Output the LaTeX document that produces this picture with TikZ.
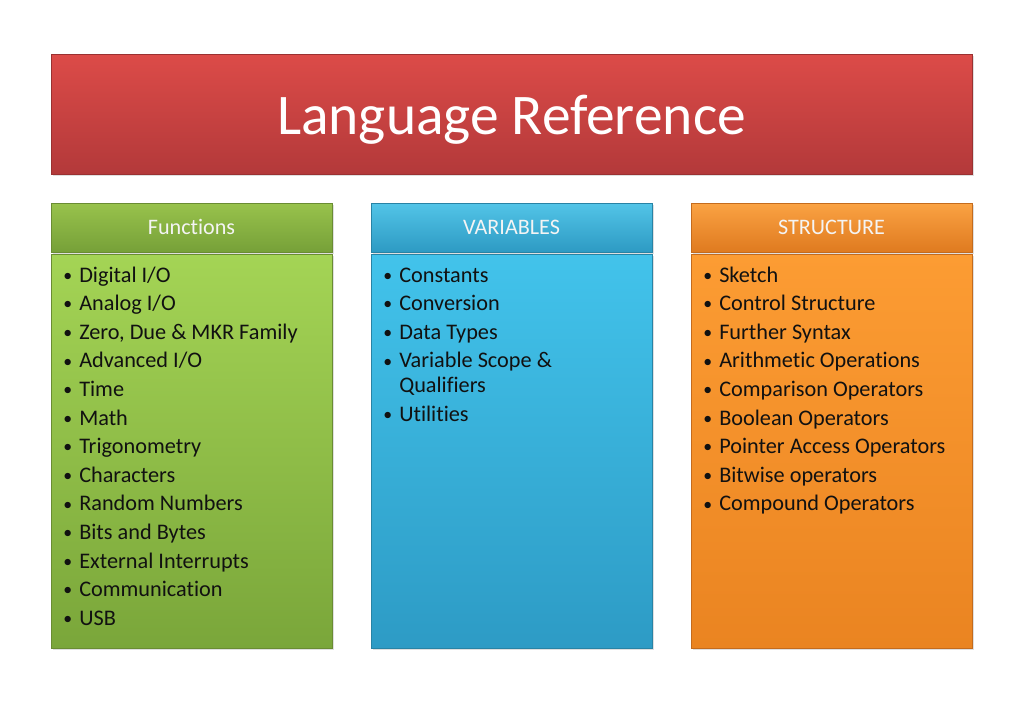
\documentclass[tikz,border=0pt]{standalone}
\usepackage{fontspec}
\setmainfont{Carlito}[RawFeature={-liga;-clig;-dlig}]
\usetikzlibrary{shadows}
\definecolor{tiTop}{HTML}{DC4B48}
\definecolor{tiBot}{HTML}{B3393A}
\definecolor{tiLine}{HTML}{9A3131}
\definecolor{grHTop}{HTML}{98C24C}
\definecolor{grHBot}{HTML}{76A038}
\definecolor{grBTop}{HTML}{A4D455}
\definecolor{grBBot}{HTML}{7AA63A}
\definecolor{grLine}{HTML}{6A8C33}
\definecolor{blHTop}{HTML}{52C4E7}
\definecolor{blHBot}{HTML}{2D9AC3}
\definecolor{blBTop}{HTML}{42C3EB}
\definecolor{blBBot}{HTML}{2D9BC5}
\definecolor{blLine}{HTML}{2883A5}
\definecolor{orHTop}{HTML}{FAA243}
\definecolor{orHBot}{HTML}{DF7A1F}
\definecolor{orBTop}{HTML}{FC9C33}
\definecolor{orBBot}{HTML}{EA8421}
\definecolor{orLine}{HTML}{C46B1D}
\definecolor{bodytext}{HTML}{111111}
\definecolor{headtext}{HTML}{F4F4F4}
\tikzset{
  boxbase/.style={rectangle, inner sep=0pt, anchor=north west,
    drop shadow={shadow xshift=1.5pt, shadow yshift=-1.5pt, opacity=0.25}},
  titlebox/.style={boxbase, top color=tiTop, bottom color=tiBot, draw=tiLine, line width=0.6pt,
    minimum width=921*0.75pt, minimum height=120*0.75pt},
  headbox/.style={boxbase, minimum width=281*0.75pt, minimum height=49*0.75pt, line width=0.6pt},
  bodybox/.style={boxbase, minimum width=281*0.75pt, minimum height=394*0.75pt, line width=0.6pt},
  headtxt/.style={anchor=base, text=headtext, inner sep=0pt, font=\fontsize{16.6}{19}\selectfont},
  item/.style={anchor=base west, text=bodytext, inner sep=0pt, font=\fontsize{16.7}{19}\selectfont},
}
\newcommand{\bul}{\makebox[12pt][l]{\raisebox{0.6pt}{\scalebox{0.8}{•}}}}
\begin{document}
\begin{tikzpicture}[x=0.75pt,y=-0.75pt]
\useasboundingbox[fill=white] (0,0) rectangle (1023,708);
% title
\node[titlebox] (title) at (51,54) {};
\node[anchor=base, text=white, inner sep=0pt, font=\fontsize{43.1}{50}\selectfont] (titletext) at (511.5,134) {Language Reference};
% headers
\node[headbox, top color=grHTop, bottom color=grHBot, draw=grLine] (hf) at (51,203) {};
\node[headbox, top color=blHTop, bottom color=blHBot, draw=blLine] (hv) at (371,203) {};
\node[headbox, top color=orHTop, bottom color=orHBot, draw=orLine] (hs) at (691,203) {};
\node[headtxt] (hft) at (191.5,234) {Functions};
\node[headtxt] (hvt) at (511.5,234) {VARIABLES};
\node[headtxt] (hst) at (831.5,234) {STRUCTURE};
% bodies
\node[bodybox, top color=grBTop, bottom color=grBBot, draw=grLine] (bf) at (51,254) {};
\node[bodybox, top color=blBTop, bottom color=blBBot, draw=blLine] (bv) at (371,254) {};
\node[bodybox, top color=orBTop, bottom color=orBBot, draw=orLine] (bs) at (691,254) {};
% functions list
\foreach \t [count=\i from 0] in {Digital I/O, Analog I/O, {Zero, Due \& MKR Family}, Advanced I/O, Time, Math, Trigonometry, Characters, Random Numbers, Bits and Bytes, External Interrupts, Communication, USB}
  \node[item] (f\i) at (63,282+28.6*\i) {\bul\t};
% variables list
\node[item] (v0) at (383,282) {\bul Constants};
\node[item] (v1) at (383,310.6) {\bul Conversion};
\node[item] (v2) at (383,339.2) {\bul Data Types};
\node[item] (v3) at (383,367.8) {\bul Variable Scope \&};
\node[item] (v3b) at (399,392.5) {Qualifiers};
\node[item] (v4) at (383,421) {\bul Utilities};
% structure list
\foreach \t [count=\i from 0] in {Sketch, Control Structure, Further Syntax, Arithmetic Operations, Comparison Operators, Boolean Operators, Pointer Access Operators, Bitwise operators, Compound Operators}
  \node[item] (s\i) at (703,282+28.6*\i) {\bul\t};
\end{tikzpicture}
\end{document}
